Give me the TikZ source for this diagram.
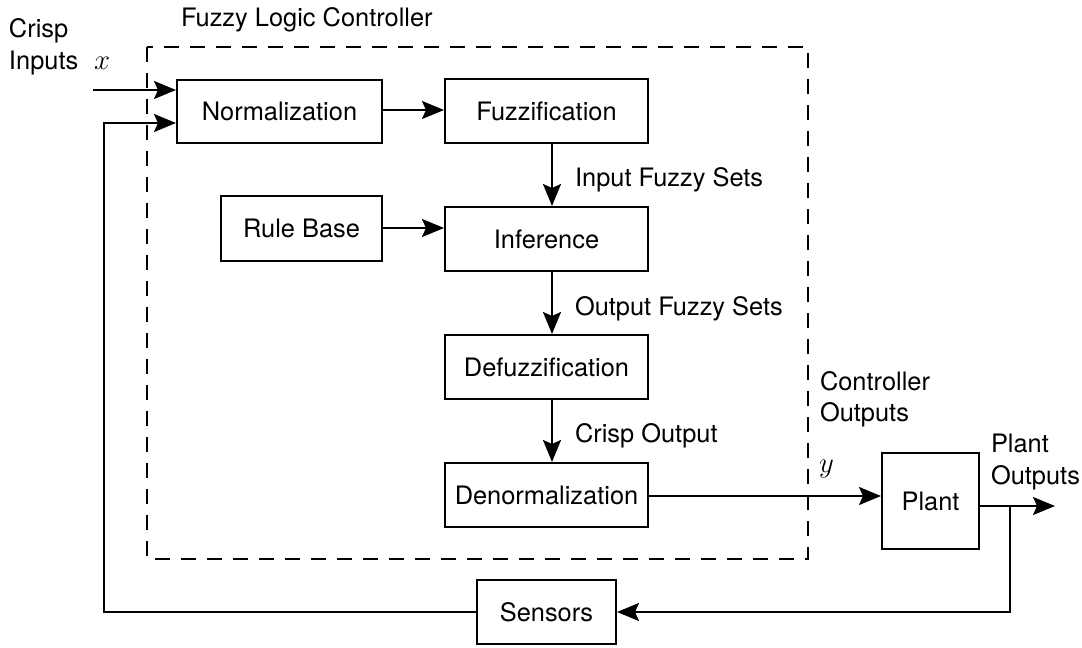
\documentclass[tikz,border=0pt]{standalone}
\usepackage{fontspec}
\setmainfont{TeX Gyre Heros}
\usetikzlibrary{arrows.meta,calc}
\begin{document}
\begin{tikzpicture}[x=0.5pt,y=-0.5pt,
  font=\fontsize{12.7}{15.5}\selectfont,
  line width=1pt,
  blk/.style={draw,rectangle,inner sep=0pt,minimum height=32pt},
  arr/.style={-{Stealth[length=11pt,width=9pt,inset=2pt]}},
  lbl/.style={anchor=base west,inner sep=0pt},
  mth/.style={anchor=base west,inner sep=0pt,font=\fontsize{15}{18}\selectfont}]
\useasboundingbox (0,0) rectangle (1082,648);
% dashed controller frame
\draw[dash pattern=on 7.5pt off 5.5pt] (147,47) rectangle (808,559);
\node[lbl] (flc) at (180,26) {Fuzzy Logic Controller};
% blocks
\node[blk,minimum width=102.5pt,minimum height=31.5pt] (norm) at (279.5,111.5) {Normalization};
\node[blk,minimum width=101.5pt] (fuzz) at (546.5,111) {Fuzzification};
\node[blk,minimum width=80.5pt,minimum height=32.5pt] (rule) at (301.5,228.5) {Rule Base};
\node[blk,minimum width=101.5pt] (inf) at (546.5,239) {Inference};
\node[blk,minimum width=101.5pt] (defz) at (546.5,367) {Defuzzification};
\node[blk,minimum width=101.5pt] (denorm) at (546.5,495) {Denormalization};
\node[blk,minimum width=48.5pt,minimum height=48pt] (plant) at (930.5,501) {Plant};
\node[blk,minimum width=69.5pt] (sens) at (546.5,612) {Sensors};
% labels
\node[lbl] (crisp) at (8,38) {Crisp};
\node[lbl] (inputs) at (8,69) {Inputs};
\node[mth] (xlab) at (93,69) {$x$};
\node[lbl] (ifs) at (574,186) {Input Fuzzy Sets};
\node[lbl] (ofs) at (574,315) {Output Fuzzy Sets};
\node[lbl] (co) at (574,442) {Crisp Output};
\node[lbl] (ctrl) at (819,390) {Controller};
\node[lbl] (ctrlo) at (819,421) {Outputs};
\node[mth] (ylab) at (818,472) {$y$};
\node[lbl] (pl) at (990,452) {Plant};
\node[lbl] (plo) at (990,484) {Outputs};
% coordinates
\coordinate (in) at (93,90);
\coordinate (out) at (1055,506);
\coordinate (br) at (1010,506);
\coordinate (fbl) at (104,612);
% connectors
\draw[arr] (in) -- (in -| norm.west);
\draw[arr] (norm.east |- 0,110) -- (fuzz.west |- 0,110);
\draw[arr] ([xshift=2.75pt]fuzz.south) -- ([xshift=2.75pt]inf.north);
\draw[arr] ([xshift=2.75pt]inf.south) -- ([xshift=2.75pt]defz.north);
\draw[arr] ([xshift=2.75pt]defz.south) -- ([xshift=2.75pt]denorm.north);
\draw[arr] (rule.east |- 0,228) -- (inf.west |- 0,228);
\draw[arr] (denorm.east |- 0,496) -- (plant.west |- 0,496);
\draw[arr] (plant.east |- out) -- (out);
\draw[arr] (br) -- (br |- sens.east) -- (sens.east);
\draw[arr] (sens.west) -- (fbl) -- (fbl |- 0,123) -- (norm.west |- 0,123);
\end{tikzpicture}
\end{document}
